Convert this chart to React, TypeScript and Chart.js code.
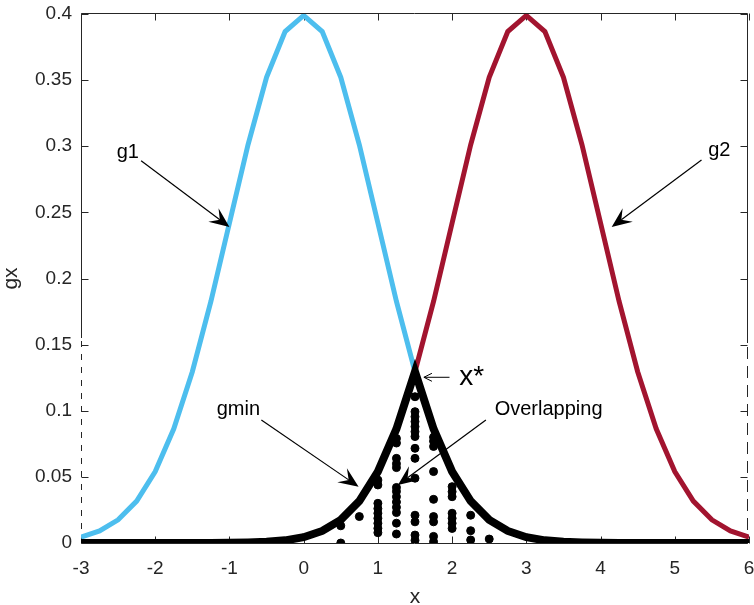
import React, { useEffect, useRef } from "react";
import { Chart, registerables } from "chart.js";

Chart.register(...registerables);

const FONT = "'Liberation Sans', Arial, Helvetica, sans-serif";
const AXIS_COLOR = "#262626";

// Grid of x values used for the curves
const xGrid = [
  -3, -2.75, -2.5, -2.25, -2, -1.75, -1.5, -1.25, -1, -0.75, -0.5, -0.25, 0,
  0.25, 0.5, 0.75, 1, 1.25, 1.5, 1.75, 2, 2.25, 2.5, 2.75, 3,
  3.25, 3.5, 3.75, 4, 4.25, 4.5, 4.75, 5, 5.25, 5.5, 5.75, 6,
];

const g1 = [
  0.0044, 0.0091, 0.0175, 0.0317, 0.054, 0.0863, 0.1295, 0.1826, 0.242, 0.3011, 0.3521, 0.3867, 0.3989,
  0.3867, 0.3521, 0.3011, 0.242, 0.1826, 0.1295, 0.0863, 0.054, 0.0317, 0.0175, 0.0091, 0.0044,
  0.002, 0.0009, 0.0004, 0.0001, 0, 0, 0, 0, 0, 0, 0, 0,
];

const g2 = [
  0, 0, 0, 0, 0, 0, 0, 0, 0.0001, 0.0004, 0.0009, 0.002, 0.0044,
  0.0091, 0.0175, 0.0317, 0.054, 0.0863, 0.1295, 0.1826, 0.242, 0.3011, 0.3521, 0.3867, 0.3989,
  0.3867, 0.3521, 0.3011, 0.242, 0.1826, 0.1295, 0.0863, 0.054, 0.0317, 0.0175, 0.0091, 0.0044,
];

const gmin = [
  0, 0, 0, 0, 0, 0, 0, 0, 0.0001, 0.0004, 0.0009, 0.002, 0.0044,
  0.0091, 0.0175, 0.0317, 0.054, 0.0863, 0.1295, 0.0863, 0.054, 0.0317, 0.0175, 0.0091, 0.0044,
  0.002, 0.0009, 0.0004, 0.0001, 0, 0, 0, 0, 0, 0, 0, 0,
];

// Sample points in the overlapping region
const dotX = [
  0.5, 0.5,
  0.75,
  1, 1, 1, 1, 1, 1, 1, 1, 1,
  1.25, 1.25, 1.25, 1.25, 1.25, 1.25, 1.25, 1.25, 1.25, 1.25, 1.25, 1.25, 1.25,
  1.5, 1.5, 1.5, 1.5, 1.5, 1.5, 1.5, 1.5, 1.5, 1.5, 1.5, 1.5, 1.5, 1.5,
  1.75, 1.75, 1.75, 1.75, 1.75, 1.75, 1.75, 1.75, 1.75,
  2, 2, 2, 2, 2, 2, 2,
  2.25, 2.25, 2.25,
  2.5,
];
const dotY = [
  0.013, 0.0,
  0.02,
  0.0476, 0.0439, 0.03, 0.026, 0.0225, 0.0187, 0.0149, 0.0111, 0.0078,
  0.079, 0.0756, 0.064, 0.06, 0.057, 0.042, 0.039, 0.035, 0.031, 0.027, 0.023, 0.015, 0.0068,
  0.1106, 0.0993, 0.0955, 0.0918, 0.088, 0.0842, 0.0805, 0.0716, 0.064, 0.049, 0.021, 0.016, 0.006, 0.002,
  0.08, 0.077, 0.073, 0.054, 0.033, 0.02, 0.016, 0.005, 0.001,
  0.0426, 0.0388, 0.035, 0.0225, 0.0187, 0.0149, 0.011,
  0.021, 0.0093, 0.0023,
  0.003,
];

const xTicks = [-3, -2, -1, 0, 1, 2, 3, 4, 5, 6];
const yTicks = [0, 0.05, 0.1, 0.15, 0.2, 0.25, 0.3, 0.35, 0.4];
const yTickLabels = ["0", "0.05", "0.1", "0.15", "0.2", "0.25", "0.3", "0.35", "0.4"];

// Annotations (data coordinates)
const labelText = ["g1", "g2", "gmin", "Overlapping"];
const labelX = [-2.37, 5.6, -0.88, 3.3];
const labelY = [0.295, 0.297, 0.1006, 0.1006];
const arrowFromX = [-2.19, 5.36, -0.57, 2.455];
const arrowFromY = [0.289, 0.2896, 0.093, 0.093];
const arrowToX = [-1.0, 4.15, 0.74, 1.27];
const arrowToY = [0.239, 0.239, 0.0426, 0.0439];

const xStarText = "x*";
const xStarLabel = [2.263, 0.1253];
const xStarFrom = [1.965, 0.1253];
const xStarTo = [1.62, 0.1253];

function drawFilledArrow(ctx: CanvasRenderingContext2D, x0: number, y0: number, x1: number, y1: number) {
  const dx = x1 - x0;
  const dy = y1 - y0;
  const len = Math.hypot(dx, dy);
  const ux = dx / len;
  const uy = dy / len;
  const nx = -uy;
  const ny = ux;
  const L = 20;
  const W = 8.5;
  const B = 12;
  ctx.save();
  ctx.strokeStyle = "#000";
  ctx.fillStyle = "#000";
  ctx.lineWidth = 1.2;
  ctx.beginPath();
  ctx.moveTo(x0, y0);
  ctx.lineTo(x1 - ux * B, y1 - uy * B);
  ctx.stroke();
  ctx.beginPath();
  ctx.moveTo(x1, y1);
  ctx.lineTo(x1 - ux * L + nx * W, y1 - uy * L + ny * W);
  ctx.lineTo(x1 - ux * B, y1 - uy * B);
  ctx.lineTo(x1 - ux * L - nx * W, y1 - uy * L - ny * W);
  ctx.closePath();
  ctx.fill();
  ctx.restore();
}

function drawOpenArrow(ctx: CanvasRenderingContext2D, x0: number, y0: number, x1: number, y1: number) {
  const dx = x1 - x0;
  const dy = y1 - y0;
  const len = Math.hypot(dx, dy);
  const ux = dx / len;
  const uy = dy / len;
  const nx = -uy;
  const ny = ux;
  const L = 8;
  const W = 4;
  ctx.save();
  ctx.strokeStyle = "#000";
  ctx.lineWidth = 1;
  ctx.beginPath();
  ctx.moveTo(x0, y0);
  ctx.lineTo(x1, y1);
  ctx.moveTo(x1 - ux * L + nx * W, y1 - uy * L + ny * W);
  ctx.lineTo(x1, y1);
  ctx.lineTo(x1 - ux * L - nx * W, y1 - uy * L - ny * W);
  ctx.stroke();
  ctx.restore();
}

const framePlugin = {
  id: "frame",
  beforeDatasetsDraw(chart: any) {
    const ctx: CanvasRenderingContext2D = chart.ctx;
    const xs = chart.scales.x;
    const ys = chart.scales.y;
    const { left, right, top, bottom } = chart.chartArea;
    const L = Math.round(left) + 0.5;
    const R = Math.round(right) - 1.5;
    const T = Math.round(top) - 0.5;
    const Bt = Math.round(bottom) + 0.5;
    const split = ys.getPixelForValue(0.155);
    ctx.save();
    ctx.strokeStyle = AXIS_COLOR;
    ctx.lineWidth = 1;
    const line = (a: number, b: number, c: number, d: number) => {
      ctx.beginPath();
      ctx.moveTo(a, b);
      ctx.lineTo(c, d);
      ctx.stroke();
    };
    line(L, T, R, T);
    line(L, Bt, R, Bt);
    line(L, T, L, split);
    line(R, T, R, split + 5);
    ctx.setLineDash([6, 7]);
    line(L, split + 3, L, Bt);
    ctx.setLineDash([12, 7]);
    line(R, split + 9, R, Bt);
    ctx.setLineDash([]);
    const tl = 7;
    xs.ticks.forEach((t: any) => {
      const px = Math.round(xs.getPixelForValue(t.value)) + 0.5;
      line(px, Bt, px, Bt - tl);
      line(px, T, px, T + tl);
    });
    ys.ticks.forEach((t: any) => {
      const py = Math.round(ys.getPixelForValue(t.value)) + 0.5;
      line(L, py, L + tl, py);
      line(R, py, R - tl, py);
    });
    ctx.restore();
  },
  afterDatasetsDraw(chart: any) {
    const ctx: CanvasRenderingContext2D = chart.ctx;
    const xs = chart.scales.x;
    const ys = chart.scales.y;
    const px = (v: number) => xs.getPixelForValue(v);
    const py = (v: number) => ys.getPixelForValue(v);
    ctx.save();
    labelText.forEach((txt, i) => {
      drawFilledArrow(ctx, px(arrowFromX[i]), py(arrowFromY[i]), px(arrowToX[i]), py(arrowToY[i]));
      ctx.fillStyle = "#000";
      ctx.font = `20px ${FONT}`;
      ctx.textAlign = "center";
      ctx.textBaseline = "middle";
      ctx.fillText(txt, px(labelX[i]), py(labelY[i]));
    });
    drawOpenArrow(ctx, px(xStarFrom[0]), py(xStarFrom[1]), px(xStarTo[0]), py(xStarTo[1]));
    ctx.fillStyle = "#000";
    ctx.font = `28px ${FONT}`;
    ctx.textAlign = "center";
    ctx.textBaseline = "middle";
    ctx.fillText(xStarText, px(xStarLabel[0]), py(xStarLabel[1]));
    ctx.restore();
  },
};

export default function App() {
  const canvasRef = useRef<HTMLCanvasElement | null>(null);

  useEffect(() => {
    const canvas = canvasRef.current;
    if (!canvas) return;
    const pts = (ys: number[]) => xGrid.map((x, i) => ({ x, y: ys[i] }));
    const chart = new Chart(canvas, {
      type: "line",
      data: {
        datasets: [
          {
            label: "dots",
            type: "scatter",
            data: dotX.map((x, i) => ({ x, y: dotY[i] })),
            backgroundColor: "#000",
            borderColor: "#000",
            pointRadius: 4,
            pointBorderWidth: 1,
            showLine: false,
            order: 0,
          },
          {
            label: "gmin",
            data: pts(gmin),
            borderColor: "#000",
            borderWidth: 8,
            pointRadius: 0,
            tension: 0,
            fill: false,
            order: 1,
          },
          {
            label: "g1",
            data: pts(g1),
            borderColor: "#4DBEEE",
            borderWidth: 5,
            pointRadius: 0,
            tension: 0,
            fill: false,
            order: 2,
          },
          {
            label: "g2",
            data: pts(g2),
            borderColor: "#A2142F",
            borderWidth: 5,
            pointRadius: 0,
            tension: 0,
            fill: false,
            order: 3,
          },
        ],
      } as any,
      options: {
        responsive: false,
        devicePixelRatio: 1,
        animation: false,
        events: [],
        layout: { padding: { top: 14, right: 1, left: 0, bottom: 0 } },
        plugins: {
          legend: { display: false },
          tooltip: { enabled: false },
        },
        scales: {
          x: {
            type: "linear",
            min: -3,
            max: 6,
            afterBuildTicks: (s: any) => {
              s.ticks = xTicks.map((v) => ({ value: v }));
            },
            afterFit: (s: any) => {
              s.height = 62;
              s.paddingLeft = 0;
              s.paddingRight = 0;
            },
            grid: { display: false, drawTicks: false },
            border: { display: false },
            ticks: {
              font: { family: FONT, size: 19 },
              color: AXIS_COLOR,
              padding: 14,
              maxRotation: 0,
              autoSkip: false,
              callback: (v: any) => String(v),
            },
            title: {
              display: true,
              text: "x",
              color: AXIS_COLOR,
              font: { family: FONT, size: 21, lineHeight: 0.7 },
              padding: 0,
            },
          },
          y: {
            type: "linear",
            min: 0,
            max: 0.4,
            afterBuildTicks: (s: any) => {
              s.ticks = yTicks.map((v) => ({ value: v }));
            },
            afterFit: (s: any) => {
              s.width = 81;
              s.paddingTop = 0;
              s.paddingBottom = 0;
            },
            grid: { display: false, drawTicks: false },
            border: { display: false },
            ticks: {
              font: { family: FONT, size: 19 },
              color: AXIS_COLOR,
              padding: 9,
              autoSkip: false,
              callback: (v: any) => {
                const i = yTicks.findIndex((t) => Math.abs(t - v) < 1e-9);
                return i >= 0 ? yTickLabels[i] : "";
              },
            },
            title: {
              display: true,
              text: "gx",
              color: AXIS_COLOR,
              font: { family: FONT, size: 21, lineHeight: 1.1 },
              padding: 0,
            },
          },
        },
      } as any,
      plugins: [framePlugin],
    });
    return () => chart.destroy();
  }, []);

  return (
    <div style={{ position: "absolute", left: 0, top: 0, width: 754, height: 605, background: "#fff" }}>
      <canvas ref={canvasRef} width={754} height={605} style={{ display: "block" }} />
    </div>
  );
}
